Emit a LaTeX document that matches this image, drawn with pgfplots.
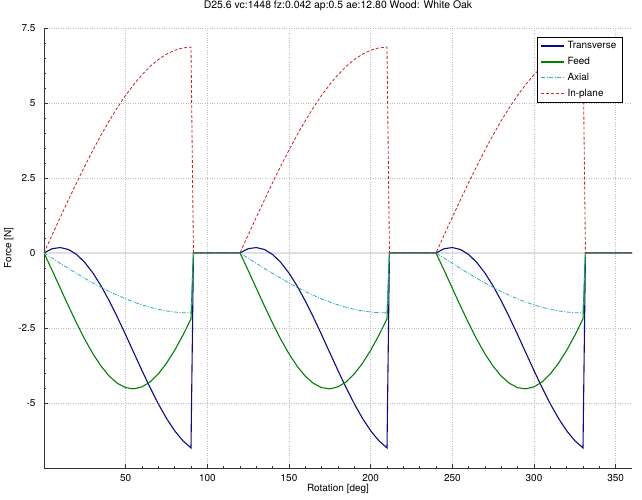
\documentclass[border=0pt]{standalone}
\usepackage{fontspec}
\setmainfont{TeX Gyre Heros}
\usepackage{pgfplots}
\usepackage{pgfplotstable}
\pgfplotsset{compat=1.18}

\definecolor{cTrans}{RGB}{10,10,140}
\definecolor{cFeed}{RGB}{0,128,0}
\definecolor{cAxial}{RGB}{40,175,185}
\definecolor{cPlane}{RGB}{205,40,40}

\tikzset{
  sTrans/.style={draw=cTrans, line width=1.1pt},
  sFeed/.style={draw=cFeed, line width=1.1pt},
  sAxial/.style={draw=cAxial, line width=0.8pt, dash pattern=on 4bp off 1.5bp on 1bp off 1.5bp},
  sPlane/.style={draw=cPlane, line width=0.85pt, dash pattern=on 3bp off 2bp},
}

% rotation [deg], transverse, feed, axial, in-plane [N]
\pgfplotstableread{
x T F A P
0 0 0 0 0
5 0.142 -0.581 -0.174 0.598
10 0.180 -1.178 -0.347 1.192
15 0.115 -1.772 -0.518 1.776
20 -0.053 -2.346 -0.684 2.347
25 -0.318 -2.883 -0.845 2.900
30 -0.672 -3.365 -1.000 3.431
35 -1.105 -3.778 -1.147 3.936
40 -1.602 -4.110 -1.286 4.411
45 -2.150 -4.350 -1.414 4.852
50 -2.731 -4.492 -1.532 5.257
55 -3.328 -4.530 -1.638 5.621
60 -3.922 -4.465 -1.732 5.943
65 -4.496 -4.297 -1.813 6.219
70 -5.033 -4.032 -1.879 6.448
75 -5.515 -3.678 -1.932 6.628
80 -5.928 -3.245 -1.970 6.758
85 -6.260 -2.748 -1.992 6.836
90 -6.500 -2.200 -2.000 6.862
91.5 0 0 0 0
120 0 0 0 0
125 0.142 -0.581 -0.174 0.598
130 0.180 -1.178 -0.347 1.192
135 0.115 -1.772 -0.518 1.776
140 -0.053 -2.346 -0.684 2.347
145 -0.318 -2.883 -0.845 2.900
150 -0.672 -3.365 -1.000 3.431
155 -1.105 -3.778 -1.147 3.936
160 -1.602 -4.110 -1.286 4.411
165 -2.150 -4.350 -1.414 4.852
170 -2.731 -4.492 -1.532 5.257
175 -3.328 -4.530 -1.638 5.621
180 -3.922 -4.465 -1.732 5.943
185 -4.496 -4.297 -1.813 6.219
190 -5.033 -4.032 -1.879 6.448
195 -5.515 -3.678 -1.932 6.628
200 -5.928 -3.245 -1.970 6.758
205 -6.260 -2.748 -1.992 6.836
210 -6.500 -2.200 -2.000 6.862
211.5 0 0 0 0
240 0 0 0 0
245 0.142 -0.581 -0.174 0.598
250 0.180 -1.178 -0.347 1.192
255 0.115 -1.772 -0.518 1.776
260 -0.053 -2.346 -0.684 2.347
265 -0.318 -2.883 -0.845 2.900
270 -0.672 -3.365 -1.000 3.431
275 -1.105 -3.778 -1.147 3.936
280 -1.602 -4.110 -1.286 4.411
285 -2.150 -4.350 -1.414 4.852
290 -2.731 -4.492 -1.532 5.257
295 -3.328 -4.530 -1.638 5.621
300 -3.922 -4.465 -1.732 5.943
305 -4.496 -4.297 -1.813 6.219
310 -5.033 -4.032 -1.879 6.448
315 -5.515 -3.678 -1.932 6.628
320 -5.928 -3.245 -1.970 6.758
325 -6.260 -2.748 -1.992 6.836
330 -6.500 -2.200 -2.000 6.862
331.5 0 0 0 0
360 0 0 0 0
}\forcedata

\begin{document}
\begin{tikzpicture}
\begin{axis}[
    at={(0,0)}, anchor=south west,
    scale only axis,
    width=588bp, height=440bp,
    xmin=0, xmax=360,
    ymin=-7.17, ymax=7.5,
    axis x line*=bottom, axis y line*=left,
    axis line style={-, black!80, line width=0.8pt},
    xtick={50,100,...,350},
    ytick={-5,-2.5,0,2.5,5,7.5},
    minor x tick num=4, minor y tick num=4,
    tick align=inside,
    major tick length=4bp, minor tick length=2.5bp,
    tick style={black!80, line width=0.6pt},
    xmajorgrids, ymajorgrids,
    major grid style={dash pattern=on 0.8bp off 1.6bp, gray!50, line width=0.5pt},
    font=\fontsize{10}{12}\selectfont,
    /pgf/number format/assume math mode=true,
    yticklabel style={xshift=-5bp},
    xticklabel style={yshift=-3bp},
    title={D25.6 vc:1448 fz:0.042 ap:0.5 ae:12.80 Wood: White Oak},
    title style={at={(axis description cs:0.5,1)}, anchor=base, yshift=14bp,
      font=\fontsize{10.5}{12}\selectfont},
    xlabel={Rotation [deg]},
    xlabel style={at={(axis description cs:0.5,0)}, anchor=base, yshift=-23bp},
    ylabel={Force [N]},
    ylabel style={at={(axis description cs:-0.06,0.5)}, anchor=center},
    legend style={at={(axis description cs:0.983,0.98)}, anchor=north east,
      font=\fontsize{10}{12}\selectfont, cells={anchor=west},
      inner xsep=3bp, inner ysep=2bp, nodes={inner sep=2.5bp},
      row sep=2.2bp},
]
\draw[gray!25, line width=1.6pt] (axis cs:0,0) -- (axis cs:360,0);
\addplot[sTrans, legend image code/.code={\draw[sTrans, line width=1.4pt] (0bp,0bp) -- (23bp,0bp);}]
  table[x=x, y=T] {\forcedata};
\addlegendentry{Transverse}
\addplot[sFeed, legend image code/.code={\draw[sFeed, line width=1.4pt] (0bp,0bp) -- (23bp,0bp);}]
  table[x=x, y=F] {\forcedata};
\addlegendentry{Feed}
\addplot[sAxial, legend image code/.code={\draw[sAxial, line width=1pt] (0bp,0bp) -- (23bp,0bp);}]
  table[x=x, y=A] {\forcedata};
\addlegendentry{Axial}
\addplot[sPlane, legend image code/.code={\draw[sPlane, line width=1pt] (0bp,0bp) -- (23bp,0bp);}]
  table[x=x, y=P] {\forcedata};
\addlegendentry{In-plane}
\end{axis}
\pgfresetboundingbox
\path (-44bp,-32bp) rectangle (598bp,468bp);
\end{tikzpicture}
\end{document}
